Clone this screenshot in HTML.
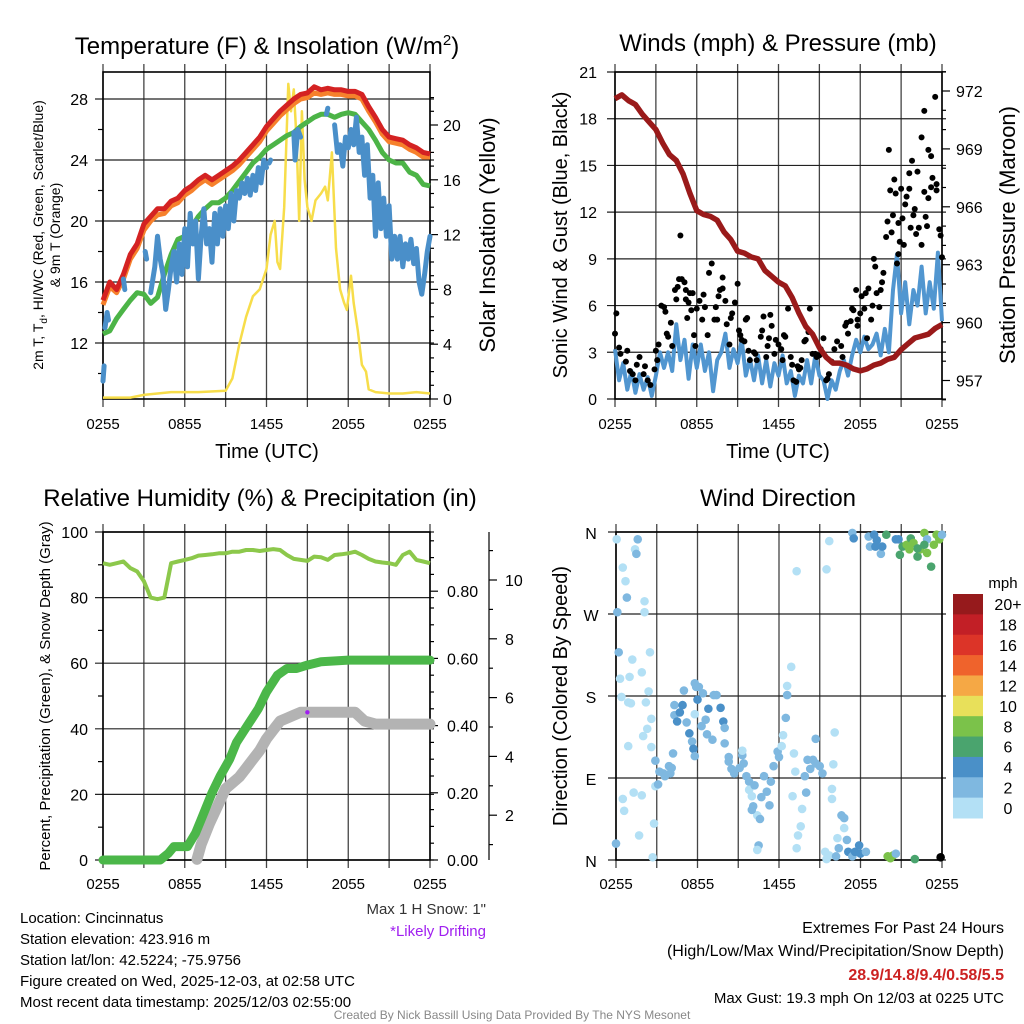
<!DOCTYPE html>
<html><head><meta charset="utf-8">
<style>
html,body{margin:0;padding:0;background:#fff;}
svg{display:block;font-family:"Liberation Sans",Arial,sans-serif;}
</style></head>
<body>
<svg id="chart" width="1024" height="1024" viewBox="0 0 1024 1024" xmlns="http://www.w3.org/2000/svg">
<rect width="1024" height="1024" fill="#fff"/>
<text x="267" y="54" font-size="24" text-anchor="middle">Temperature (F) &amp; Insolation (W/m<tspan dy="-9" font-size="15">2</tspan><tspan dy="9">)</tspan></text>
<text x="778" y="51" font-size="24" text-anchor="middle">Winds (mph) &amp; Pressure (mb)</text>
<text x="260" y="506" font-size="24" text-anchor="middle">Relative Humidity (%) &amp; Precipitation (in)</text>
<text x="778" y="506" font-size="24" text-anchor="middle">Wind Direction</text>

<text transform="translate(43,235) rotate(-90)" font-size="14" text-anchor="middle">2m T, T<tspan dy="4" font-size="10">d</tspan><tspan dy="-4">, HI/WC (Red, Green, Scarlet/Blue)</tspan></text>
<text transform="translate(60,235) rotate(-90)" font-size="14" text-anchor="middle">&amp; 9m T (Orange)</text>
<text transform="translate(495,235) rotate(-90)" font-size="22" text-anchor="middle">Solar Insolation (Yellow)</text>
<text x="267" y="458" font-size="20" text-anchor="middle">Time (UTC)</text>
<text transform="translate(567,235) rotate(-90)" font-size="20" text-anchor="middle">Sonic Wind &amp; Gust (Blue, Black)</text>
<text transform="translate(1015,235) rotate(-90)" font-size="22" text-anchor="middle">Station Pressure (Maroon)</text>
<text x="778" y="458" font-size="20" text-anchor="middle">Time (UTC)</text>
<text transform="translate(50,696) rotate(-90)" font-size="15" text-anchor="middle">Percent, Precipitation (Green), &amp; Snow Depth (Gray)</text>
<text transform="translate(567,696) rotate(-90)" font-size="20" text-anchor="middle">Direction (Colored By Speed)</text>

<g font-size="15">
<text x="20" y="923">Location: Cincinnatus</text>
<text x="20" y="944">Station elevation: 423.916 m</text>
<text x="20" y="965">Station lat/lon: 42.5224; -75.9756</text>
<text x="20" y="986">Figure created on Wed, 2025-12-03, at 02:58 UTC</text>
<text x="20" y="1007">Most recent data timestamp: 2025/12/03 02:55:00</text>
</g>
<text x="486" y="914" font-size="15" text-anchor="end" fill="#333">Max 1 H Snow: 1"</text>
<text x="486" y="936" font-size="15" text-anchor="end" fill="#a020f0">*Likely Drifting</text>
<g font-size="16" text-anchor="end">
<text x="1004" y="933">Extremes For Past 24 Hours</text>
<text x="1004" y="956">(High/Low/Max Wind/Precipitation/Snow Depth)</text>
<text x="1004" y="980" fill="#cc2222" font-weight="bold">28.9/14.8/9.4/0.58/5.5</text>
<text x="1004" y="1003" font-size="15">Max Gust: 19.3 mph On 12/03 at 0225 UTC</text>
</g>
<text x="512" y="1019" font-size="12" text-anchor="middle" fill="#888">Created By Nick Bassill Using Data Provided By The NYS Mesonet</text>
</svg>
<script>
// ---------- DATA ----------
const timeTicks = ["0255","0855","1455","2055","0255"];
const tempTicks = [12,16,20,24,28];
const solarTicks = [0,4,8,12,16,20];
const windTicks = [0,3,6,9,12,15,18,21];
const presTicks = [957,960,963,966,969,972];
const rhTicks = [0,20,40,60,80,100];
const precipTicks = ["0.00","0.20","0.40","0.60","0.80"];
const snowTicks = [2,4,6,8,10];
const dirLabels = ["N","W","S","E","N"];
const speedBins = ["20+","18","16","14","12","10","8","6","4","2","0"];
const speedColors = ["#961a1c","#c21f26","#dc3428","#ef632c","#f5a845","#e8e05a","#7bc24a","#4aa46e","#4a90c8","#7fb8e0","#b3e0f5"];

const hours = [0,0.5,1,1.5,2,2.5,3,3.5,4,4.5,5,5.5,6,6.5,7,7.5,8,8.5,9,9.5,10,10.5,11,11.5,12,12.5,13,13.5,14,14.5,15,15.5,16,16.5,17,17.5,18,18.5,19,19.5,20,20.5,21,21.5,22,22.5,23,23.5,24];
const tempRed = [14.8,16.0,15.5,16.5,17.8,18.5,19.8,20.3,20.8,20.8,21.3,21.5,22.0,22.3,22.7,23.0,22.7,23.0,23.3,23.6,24.0,24.5,25.0,25.5,26.2,26.7,27.2,27.6,28.0,28.3,28.4,28.8,28.6,28.7,28.6,28.6,28.5,28.5,28.3,27.5,26.8,26.0,25.5,25.4,25.3,25.0,24.8,24.5,24.4];
const temp9m = [14.5,15.7,15.3,16.2,17.5,18.2,19.4,20.0,20.4,20.5,21.0,21.2,21.7,22.0,22.4,22.7,22.4,22.7,23.0,23.3,23.7,24.2,24.7,25.2,25.9,26.4,26.9,27.3,27.7,28.0,28.1,28.4,28.3,28.4,28.3,28.3,28.2,28.2,28.0,27.2,26.5,25.7,25.2,25.1,25.0,24.7,24.5,24.2,24.2];
const dewGreen = [12.6,12.8,13.6,14.2,14.8,15.3,15.2,14.6,15.0,16.5,17.8,18.8,19.0,19.6,20.3,20.8,21.2,21.2,21.5,22.0,22.6,23.2,23.8,24.2,24.7,25.0,25.3,25.6,25.8,26.2,26.5,26.8,27.0,27.0,26.8,27.0,27.1,27.0,26.5,26.0,25.3,24.5,24.0,23.8,23.8,23.2,23.0,22.4,22.3];
const chillHours = [0,0.08,null,0.15,0.3,0.4,null,1.5,1.6,null,3.1,3.2,null,3.5,3.8,4.0,4.2,4.4,4.6,4.8,5.0,5.2,5.4,5.6,5.8,6.0,6.2,6.4,6.6,6.8,7.0,7.2,7.4,7.6,7.8,8.0,8.2,8.4,8.6,8.8,9.0,9.2,9.4,9.6,9.8,10.0,10.2,10.4,10.6,10.8,11.0,11.2,11.4,11.6,11.8,12.0,null,12.2,12.3,null,14.0,14.1,14.3,14.5,null,16.4,16.5,null,17.0,17.2,17.4,17.6,17.8,18.0,18.2,18.4,18.6,18.8,19.0,19.2,19.4,19.6,19.8,20.0,20.2,20.4,20.6,20.8,21.0,21.2,21.4,21.6,21.8,22.0,22.2,22.4,22.6,22.8,23.0,23.2,23.4,23.6,23.8,24.0];
const chillVals = [9.5,10.5,null,13.0,14.0,13.5,null,16.2,15.5,null,18.0,17.5,null,15.3,17.0,19.0,17.5,16.5,14.2,15.5,17.0,18.0,16.0,18.5,16.5,19.5,17.0,20.5,18.5,20.0,16.2,19.0,20.8,18.5,19.5,17.3,20.5,18.5,20.8,19.0,21.0,19.5,21.8,20.0,22.0,21.5,22.5,21.8,22.8,21.7,23.0,22.0,23.5,22.5,24.0,23.5,null,23.8,24.0,null,25.8,24.0,26.0,25.5,null,27.0,27.4,null,26.3,24.5,25.0,23.6,25.5,24.8,26.0,25.0,26.8,24.5,25.5,23.0,25.0,21.5,23.0,19.0,22.5,19.5,21.5,19.0,21.0,17.5,19.0,17.5,19.0,17.0,18.5,17.5,18.8,17.2,18.2,16.0,15.2,16.5,18.0,19.0];
const solarHours = [0,2,3,5,7,9,9.5,10,10.5,11,11.5,12,12.3,12.6,12.8,13,13.3,13.6,13.8,14,14.2,14.4,14.6,14.8,15,15.3,15.6,16,16.3,16.5,16.8,17.1,17.4,17.7,17.9,18.2,18.4,18.7,19,19.3,19.5,20,21,22,23,24];
const solarVals = [0.1,0.1,0.3,0.5,0.5,0.6,1.5,4.0,6.0,7.5,8.0,9.5,12.0,13.0,10.0,9.5,14.0,23.0,21.0,22.6,19.0,13.0,21.0,16.0,14.0,13.0,14.5,15.0,15.5,14.5,18.0,11.0,8.0,7.0,6.5,9.0,7.0,5.0,2.5,2.0,0.7,0.5,0.4,0.4,0.5,0.4];

const presVals = [971.6,971.8,971.5,971.3,970.8,970.4,970.0,969.3,968.7,968.4,967.7,966.7,965.8,965.6,965.5,965.3,964.7,964.3,963.7,963.6,963.4,963.3,962.7,962.4,962.1,961.9,961.3,960.5,959.8,959.4,958.7,958.2,957.9,957.9,957.8,957.6,957.5,957.6,957.8,957.9,958.1,958.2,958.6,958.9,959.2,959.3,959.4,959.7,959.9];
const windHours = [0,0.3,0.6,0.9,1.2,1.5,1.8,2.1,2.4,2.7,3.0,3.3,3.6,3.9,4.2,4.5,4.8,5.1,5.4,5.7,6.0,6.3,6.6,6.9,7.2,7.5,7.8,8.1,8.4,8.7,9.0,9.3,9.6,9.9,10.2,10.5,10.8,11.1,11.4,11.7,12.0,12.3,12.6,12.9,13.2,13.5,13.8,14.1,14.4,14.7,15.0,15.3,15.6,15.9,16.2,16.5,16.8,17.1,17.4,17.7,18.0,18.3,18.6,18.9,19.2,19.5,19.8,20.1,20.4,20.7,21.0,21.3,21.6,21.9,22.2,22.5,22.8,23.1,23.4,23.7,24.0];
const windVals = [3.2,1.2,2.3,0.6,1.8,0.4,1.6,0.6,1.4,0.2,1.5,3.0,2.0,3.0,1.8,4.8,2.5,3.8,1.3,3.5,2.0,3.5,1.8,3.0,0.5,2.5,3.0,4.2,2.0,3.2,2.3,3.8,1.5,2.6,1.2,2.8,1.0,2.5,0.8,2.3,1.5,2.8,1.0,1.8,0.2,1.5,1.0,2.5,1.0,2.8,1.5,1.2,0.0,1.2,0.6,1.8,2.5,1.5,2.8,3.8,3.0,4.0,3.2,3.5,4.2,2.8,4.5,3.0,7.0,9.3,5.5,7.5,4.8,7.0,6.0,8.5,5.5,7.5,5.8,9.4,5.0];
const gustHours = [0,0.1,0.3,0.4,0.8,0.9,1.1,1.3,1.5,1.6,1.8,2.1,2.2,2.4,2.6,2.9,3.0,3.1,3.2,3.4,3.6,3.7,3.8,3.9,4.1,4.2,4.4,4.5,4.6,4.7,4.8,4.9,5.1,5.2,5.2,5.3,5.4,5.5,5.6,5.7,5.8,5.9,6.0,6.2,6.4,6.5,6.6,6.8,6.9,7.1,7.3,7.4,7.5,7.6,7.7,7.9,7.9,8.1,8.2,8.4,8.5,8.6,8.8,9.0,9.1,9.2,9.3,9.5,9.6,9.7,9.8,9.9,10.2,10.3,10.4,10.7,10.8,10.9,11.1,11.2,11.3,11.4,11.5,11.7,11.8,12.0,12.2,12.3,12.4,12.5,12.7,12.9,13.0,13.1,13.3,13.4,13.5,13.6,13.7,13.9,14.0,14.2,14.3,14.5,14.7,14.8,15.0,15.1,15.3,15.5,15.6,15.7,15.9,16.1,16.3,16.6,16.7,16.9,17.0,17.1,17.3,17.4,17.5,17.7,17.8,17.8,18.0,18.1,18.3,18.4,18.5,18.6,18.8,18.9,19.0,19.1,19.2,19.4,19.5,19.6,19.7,19.9,20.0,20.1,20.2,20.3,20.4,20.5,20.6,20.7,20.8,20.8,20.9,21.0,21.1,21.2,21.3,21.4,21.6,21.6,21.7,21.8,21.9,22.0,22.1,22.2,22.3,22.5,22.5,22.7,22.7,22.8,22.9,23.0,23.0,23.2,23.2,23.3,23.5,23.6,23.6,23.8,23.9,24.0];
const gustVals = [4.2,5.5,3.3,2.9,2.4,3.1,1.8,1.6,1.2,2.2,2.7,1.6,2.1,1.2,0.9,1.9,3.1,2.5,3.5,6.0,5.9,5.6,4.2,4.0,4.9,3.4,7.0,6.4,7.2,7.7,10.5,7.7,7.5,7.0,6.4,5.2,6.2,6.8,5.7,6.8,4.1,3.4,5.8,6.3,5.1,6.7,5.9,4.1,8.1,8.7,5.1,5.9,5.1,6.6,7.0,7.8,7.1,6.3,4.8,3.5,5.2,5.5,6.2,7.4,4.4,4.1,3.8,3.7,5.1,5.2,3.1,2.5,3.0,2.9,2.5,4.0,4.4,5.3,2.7,3.4,3.9,5.4,4.7,2.9,3.8,3.5,3.2,2.5,4.1,4.0,5.8,2.7,2.2,1.2,1.1,2.1,1.9,2.0,2.5,3.7,3.8,4.3,5.8,2.9,2.9,2.7,2.8,3.2,3.9,1.2,1.3,1.6,2.4,3.2,3.7,3.4,2.7,4.7,4.9,4.2,5.0,5.8,5.7,7.0,5.1,4.7,5.5,6.6,5.8,6.8,3.9,7.1,5.1,6.0,9.0,8.5,6.8,5.9,7.0,7.5,8.1,10.4,11.4,16.0,13.4,10.7,11.8,14.1,13.2,8.7,11.3,9.3,10.1,13.5,11.6,9.9,12.5,13.0,14.5,13.5,11.0,15.3,11.8,12.2,10.6,14.6,11.0,9.9,16.8,18.5,13.3,11.7,11.1,12.9,16.0,15.6,13.6,14.2,19.4,13.4,13.8,10.9,10.5,9.1];

const rhVals = [90.5,90,90.5,91,89,88,85,80,79.5,80,90.5,91,91.5,92,92.8,93,93.2,93.5,93.5,94,94,94.5,94.5,94.2,94.5,94.8,94.5,93,91.8,91.5,91.2,92.5,92.3,91.5,93,93.2,93.5,94,93,91.8,91,90.7,90.5,90,93,94,91.5,91,90.5];
const precipHours = [0,4.2,4.8,5.2,6.2,6.8,7.2,8.0,8.6,9.3,9.8,10.6,11.4,12.0,12.8,13.5,14.2,15.0,16.0,18.0,24];
const precipVals = [0,0,0.02,0.04,0.04,0.08,0.12,0.20,0.25,0.30,0.35,0.40,0.45,0.50,0.55,0.57,0.57,0.58,0.59,0.595,0.595];
const snowHours = [6.9,7.2,7.8,8.5,9.0,9.5,10.0,10.5,11.0,11.5,12.0,12.5,13.0,13.5,14.0,14.5,18.5,19.2,20.0,24];
const snowVals = [0.5,1.0,1.7,2.4,2.9,3.1,3.3,3.6,3.9,4.2,4.6,4.9,5.2,5.3,5.4,5.5,5.5,5.2,5.1,5.1];
const driftHour = [15.0];
const driftVal = [5.5];

const dirHours = [0.05,1.6,1.4,1.5,0.5,0.7,0.8,2.1,2.1,0.1,0.2,2.5,1.2,1.9,0.3,1.0,2.4,0.4,0.9,1.1,2.2,2.6,2.3,2.0,0.9,2.6,2.9,4.2,2.9,3.1,3.2,3.5,3.9,4.0,4.1,3.6,1.3,1.9,0.5,0.6,2.8,1.7,0.0,2.7,4.3,4.9,4.3,4.7,4.5,5.2,5.4,5.6,5.7,5.8,5.0,5.8,5.9,6.1,6.0,5.8,6.4,6.8,6.3,6.7,7.1,6.6,7.2,7.4,7.7,7.9,8.0,8.0,8.3,8.3,8.5,8.7,9.1,9.3,9.4,9.3,9.6,9.8,9.8,10.0,10.1,10.4,10.0,10.6,10.2,10.9,11.4,11.1,10.7,11.3,10.5,10.4,11.6,11.9,12.0,12.2,12.3,12.5,12.6,12.6,12.9,13.1,13.2,13.0,13.7,13.6,13.4,13.3,14.0,13.9,14.1,14.3,14.5,14.7,15.0,15.2,14.7,16.1,16.0,15.9,15.9,16.3,16.4,16.6,16.8,16.8,17.0,17.1,17.4,17.6,17.9,18.0,18.4,15.4,15.7,16.2,15.5,13.3,15.5,15.7,17.4,17.5,18.6,19.0,19.2,18.7,19.1,19.5,19.6,19.9,20.6,20.8,21.1,20.9,21.4,21.7,21.9,22.2,22.4,22.7,22.9,23.2,23.4,23.6,23.8,24.0,22.9,22.2,21.6,22.7,20.0,20.2,20.4,20.6,22.0,23.9];
const dirDeg = [352,352,341,336,321,306,288,284,272,272,228,228,220,206,199,201,185,179,173,172,173,155,144,136,125,124,109,117,81,83,97,95,103,95,101,92,74,71,67,54,40,27,18,3,170,170,159,162,152,151,139,130,122,114,186,194,190,190,176,160,183,166,147,138,132,154,181,181,167,152,145,128,113,108,100,95,101,115,106,120,92,86,77,70,59,49,55,45,82,92,86,75,69,60,16,11,103,119,113,125,137,156,181,191,212,117,97,70,56,37,27,13,74,92,110,100,110,106,103,95,133,140,105,78,67,24,13,49,46,35,22,9,4,9,16,7,9,9,5,4,1,317,319,350,359,353,355,357,351,344,344,336,344,357,352,352,344,335,346,353,348,333,341,359,352,322,346,357,352,357,337,342,341,346,4,2,5,7,1,3];
const dirSpeed = [1,3,1,3,1,1,3,1,1,3,3,1,1,1,1,1,1,1,1,1,1,1,1,1,1,1,3,3,1,3,3,3,3,3,3,3,1,1,1,1,1,1,3,1,3,5,3,5,5,3,5,3,5,3,3,3,3,3,5,1,3,5,3,3,3,3,3,3,5,5,3,3,3,3,3,3,3,3,3,1,3,3,1,1,3,1,3,3,3,3,3,3,3,3,3,1,3,3,3,1,1,3,3,1,1,1,1,1,1,1,1,1,3,3,3,3,3,3,3,3,3,1,1,1,1,1,3,3,3,1,3,5,3,5,5,5,3,1,1,3,1,1,1,1,3,5,3,5,5,3,5,3,5,7,5,5,7,7,9,7,9,7,9,9,3,7,9,9,9,3,9,7,9,7,9,9,9,3,7];

// ---------- HELPERS ----------
const svg = document.getElementById('chart');
const NS = 'http://www.w3.org/2000/svg';
function mk(tag, attrs, parent){
  const e = document.createElementNS(NS, tag);
  for (const k in attrs) e.setAttribute(k, attrs[k]);
  (parent || svg).appendChild(e);
  return e;
}
function pathFrom(xs, ys, fx, fy){
  let d = '', pen = false;
  for (let i = 0; i < xs.length; i++){
    if (xs[i] === null || ys[i] === null){ pen = false; continue; }
    d += (pen ? 'L' : 'M') + fx(xs[i]).toFixed(1) + ',' + fy(ys[i]).toFixed(1);
    pen = true;
  }
  return d;
}
function gridAndFrame(name, x0, x1, y0, y1, hLines, fy){
  const g = mk('g', {});
  
  
  for (let i = 0; i <= 8; i++){
    const x = x0 + (x1 - x0) * i / 8;
    const ln = mk('line', {x1:x, x2:x, y1:y0 - 8, y2:y1 + 8, stroke:'#444', 'stroke-width':1.3}, g);
    
    
  }
  for (const v of hLines){
    const y = fy(v);
    const ln = mk('line', {x1:x0 - 8, x2:x1 + 4, y1:y, y2:y, stroke:'#222', 'stroke-width':1.2}, g);
    
    
  }
  const fr = mk('rect', {x:x0, y:y0, width:x1 - x0, height:y1 - y0, fill:'none', stroke:'#000', 'stroke-width':1.6}, g);
  
  
  return g;
}
function timeLabels(name, x0, x1, y){
  for (let i = 0; i < timeTicks.length; i++){
    const t = mk('text', {x:x0 + (x1 - x0) * i / 4, y:y, 'font-size':15, 'text-anchor':'middle'});
    t.textContent = timeTicks[i];
    
    
  }
}
function label(x, y, txt, anchor, size, name){
  const t = mk('text', {x:x, y:y, 'font-size':size, 'text-anchor':anchor});
  t.textContent = txt;
  
  
  return t;
}
function tick(x1, y1, x2, y2, name){
  const l = mk('line', {x1:x1, y1:y1, x2:x2, y2:y2, stroke:'#000', 'stroke-width':1.2});
  
  
}

// ---------- PANEL 1: Temperature ----------
const X1a = 103, X1b = 430, Y1a = 72, Y1b = 399;
const px1 = h => X1a + h * (X1b - X1a) / 24;
const yT = v => 343 - (v - 12) * 15.25;
const yS = v => 399 - v * 13.7;
gridAndFrame('temp', X1a, X1b, Y1a, Y1b, tempTicks, yT);
for (let v = 10; v <= 29; v += 2){ if (v % 4) tick(X1a - 5, yT(v), X1a, yT(v), 'temp-minor-tick'); }
for (const v of tempTicks) label(88, yT(v) + 6, String(v), 'end', 16, 'temp-y-tick-label');
for (let v = 0; v <= 22; v++){ const maj = v % 4 === 0; tick(X1b, yS(v), X1b + (maj ? 8 : 4), yS(v), 'solar-tick'); }
for (const v of solarTicks) label(443, yS(v) + 6, String(v), 'start', 16, 'solar-y-tick-label');
timeLabels('temp', X1a, X1b, 429);
let p;
p = mk('path', {d:pathFrom(solarHours, solarVals, px1, yS), fill:'none', stroke:'#f7dd4a', 'stroke-width':2.5, 'stroke-linejoin':'round'});
 
p = mk('path', {d:pathFrom(hours, dewGreen, px1, yT), fill:'none', stroke:'#4cb447', 'stroke-width':5, 'stroke-linejoin':'round'});
 
p = mk('path', {d:pathFrom(hours, temp9m, px1, yT), fill:'none', stroke:'#f6812c', 'stroke-width':5, 'stroke-linejoin':'round'});
 
p = mk('path', {d:pathFrom(hours, tempRed, px1, yT), fill:'none', stroke:'#d42222', 'stroke-width':5, 'stroke-linejoin':'round'});
 
p = mk('path', {d:pathFrom(chillHours, chillVals, px1, yT), fill:'none', stroke:'#4a8fc9', 'stroke-width':5, 'stroke-linejoin':'round', 'stroke-linecap':'round'});
 

// ---------- PANEL 2: Winds ----------
const X2a = 615, X2b = 942;
const px2 = h => X2a + h * (X2b - X2a) / 24;
const yW = v => 399 - v * 327 / 21;
const yP = v => 91 + (972 - v) * 19.3;
gridAndFrame('wind', X2a, X2b, 72, 399, windTicks, yW);
for (const v of windTicks) label(597, yW(v) + 6, String(v), 'end', 16, 'wind-y-tick-label');
for (let v = 956; v <= 973; v++){ const maj = v % 3 === 0; tick(X2b, yP(v), X2b + (maj ? 8 : 4), yP(v), 'pressure-tick'); }
for (const v of presTicks) label(956, yP(v) + 6, String(v), 'start', 16, 'pressure-y-tick-label');
timeLabels('wind', X2a, X2b, 429);
p = mk('path', {d:pathFrom(windHours, windVals, px2, yW), fill:'none', stroke:'#5196d0', 'stroke-width':4, 'stroke-linejoin':'round'});
 
for (let i = 0; i < gustHours.length; i++){
  const c = mk('circle', {cx:px2(gustHours[i]), cy:yW(gustVals[i]), r:3, fill:'#000'});
  
  
}
p = mk('path', {d:pathFrom(hours, presVals, px2, yP), fill:'none', stroke:'#9a1a1a', 'stroke-width':5.5, 'stroke-linejoin':'round'});
 

// ---------- PANEL 3: RH & Precip ----------
const Y3a = 532, Y3b = 860;
const yRH = v => Y3b - v * 3.28;
const yPr = v => Y3b - v * 336;
const ySn = v => 874 - v * 29.4;
gridAndFrame('rh', X1a, X1b, Y3a, Y3b, rhTicks, yRH);
for (let v = 10; v < 100; v += 20) tick(X1a - 5, yRH(v), X1a, yRH(v), 'rh-minor-tick');
for (const v of rhTicks) label(88, yRH(v) + 6, String(v), 'end', 16, 'rh-y-tick-label');
for (let v = 0; v <= 0.96; v += 0.05){ const maj = Math.abs(v * 5 - Math.round(v * 5)) < 0.01; tick(X1b, yPr(v), X1b + (maj ? 8 : 4), yPr(v), 'precip-tick'); }
for (let i = 0; i < precipTicks.length; i++) label(447, yPr(parseFloat(precipTicks[i])) + 6, precipTicks[i], 'start', 16, 'precip-y-tick-label');
tick(489, Y3a, 489, Y3b, 'snow-axis-line');
for (let v = 1; v <= 11; v++){ const maj = v % 2 === 0; tick(489, ySn(v), 489 + (maj ? 8 : 4), ySn(v), 'snow-tick'); }
for (const v of snowTicks) label(505, ySn(v) + 6, String(v), 'start', 16, 'snow-y-tick-label');
timeLabels('rh', X1a, X1b, 889);
p = mk('path', {d:pathFrom(hours, rhVals, px1, yRH), fill:'none', stroke:'#8cc84b', 'stroke-width':4, 'stroke-linejoin':'round'});
 
p = mk('path', {d:pathFrom(snowHours, snowVals, px1, ySn), fill:'none', stroke:'#b3b3b3', 'stroke-width':11, 'stroke-linejoin':'round', 'stroke-linecap':'round'});
 
p = mk('path', {d:pathFrom(precipHours, precipVals, px1, yPr), fill:'none', stroke:'#4bb749', 'stroke-width':9, 'stroke-linejoin':'round', 'stroke-linecap':'round'});
 
for (let i = 0; i < driftHour.length; i++){
  const c = mk('circle', {cx:px1(driftHour[i]), cy:ySn(driftVal[i]), r:2.2, fill:'#a020f0'});
  
  
}

// ---------- PANEL 4: Wind direction ----------
const X4a = 616, X4b = 942;
const px4 = h => X4a + h * (X4b - X4a) / 24;
const yD = d => Y3b - d * (Y3b - Y3a) / 360;
gridAndFrame('direction', X4a, X4b, Y3a, Y3b, [0,90,180,270,360], yD);
for (let i = 0; i < dirLabels.length; i++) label(591, yD(360 - i * 90) + 7, dirLabels[i], 'middle', 16, 'direction-y-tick-label');
timeLabels('direction', X4a, X4b, 889);
function speedColor(s){ const idx = Math.min(10, Math.floor(s / 2)); return speedColors[10 - idx]; }
for (let i = 0; i < dirHours.length; i++){
  const c = mk('circle', {cx:px4(dirHours[i]), cy:yD(dirDeg[i]), r:4.3, fill:speedColor(dirSpeed[i])});
  
  
}
// colorbar
const cbTop = 594, cbH = 224 / speedBins.length;
label(1003, 588, 'mph', 'middle', 15, 'colorbar-title');
for (let i = 0; i < speedBins.length; i++){
  const r = mk('rect', {x:953, y:cbTop + i * cbH, width:30, height:cbH + 0.5, fill:speedColors[i]});
  
  
  label(1008, cbTop + i * cbH + cbH / 2 + 6, speedBins[i], 'middle', 16, 'colorbar-label');
}
</script>
</body></html>
